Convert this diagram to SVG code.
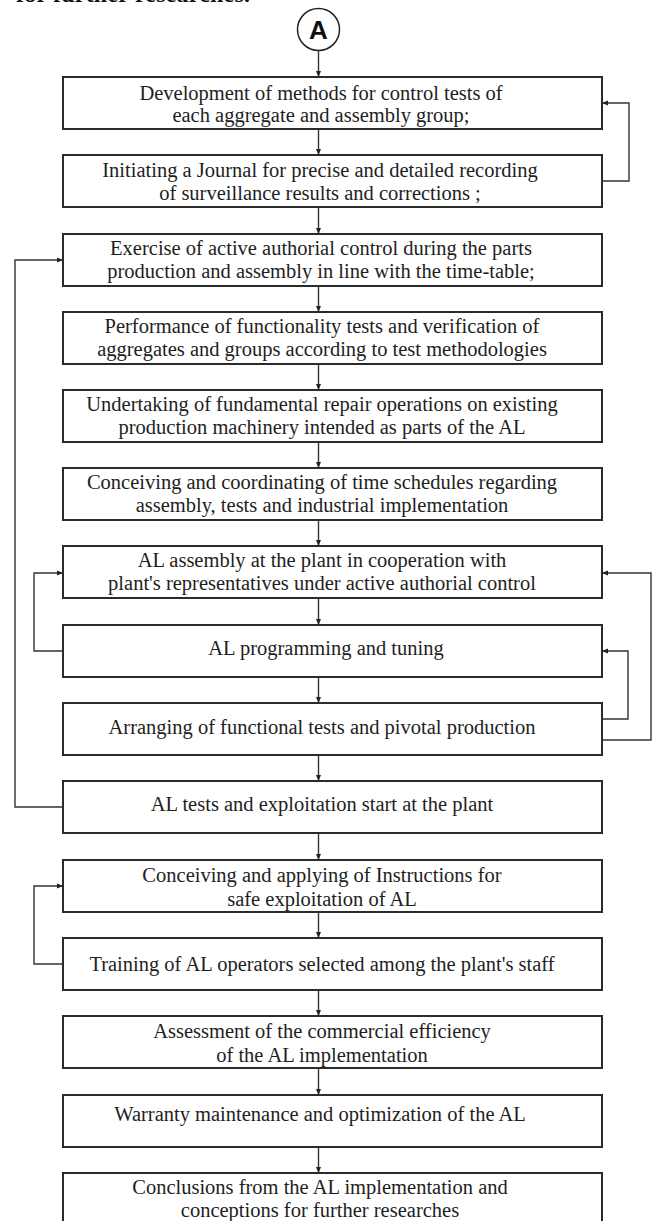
<svg xmlns="http://www.w3.org/2000/svg" width="654" height="1221" viewBox="0 0 654 1221">
<style>
.box{fill:#fff;stroke:#2b2b2b;stroke-width:2}
.t{font-family:"Liberation Serif","Times New Roman",serif;font-size:20.5px;fill:#1e1e1e;text-anchor:middle}
.c{fill:none;stroke:#333;stroke-width:1.4}
</style>
<defs>
<marker id="ah" markerUnits="userSpaceOnUse" markerWidth="7" markerHeight="6" refX="6" refY="3" orient="auto">
<path d="M0,0.5 L6,3 L0,5.5 z" fill="#222"/>
</marker>
</defs>
<rect width="654" height="1221" fill="#fff"/>
<text x="16" y="2" font-family="Liberation Serif, serif" font-weight="bold" font-size="24" fill="#111" textLength="234">for further researches.</text>

<g id="start">
<circle cx="318.5" cy="29.5" r="21" fill="#fff" stroke="#222" stroke-width="1.5"/>
<text x="318.5" y="39" font-family="Liberation Sans, Arial, sans-serif" font-weight="bold" font-size="26" text-anchor="middle" fill="#111">A</text>
</g>

<g id="connectors">
<path class="c" d="M318.5,51 V77" marker-end="url(#ah)"/>
<path class="c" d="M318.5,129 V155" marker-end="url(#ah)"/>
<path class="c" d="M318.5,207 V234" marker-end="url(#ah)"/>
<path class="c" d="M318.5,286 V312" marker-end="url(#ah)"/>
<path class="c" d="M318.5,364 V390" marker-end="url(#ah)"/>
<path class="c" d="M318.5,442 V468" marker-end="url(#ah)"/>
<path class="c" d="M318.5,520 V546" marker-end="url(#ah)"/>
<path class="c" d="M318.5,598 V625" marker-end="url(#ah)"/>
<path class="c" d="M318.5,677 V703" marker-end="url(#ah)"/>
<path class="c" d="M318.5,755 V781" marker-end="url(#ah)"/>
<path class="c" d="M318.5,833 V860" marker-end="url(#ah)"/>
<path class="c" d="M318.5,912 V938" marker-end="url(#ah)"/>
<path class="c" d="M318.5,990 V1016" marker-end="url(#ah)"/>
<path class="c" d="M318.5,1068 V1095" marker-end="url(#ah)"/>
<path class="c" d="M318.5,1147 V1173" marker-end="url(#ah)"/>
<path class="c" d="M602,181 H629 V103 H602" marker-end="url(#ah)"/>
<path class="c" d="M63,807 H15 V260 H63" marker-end="url(#ah)"/>
<path class="c" d="M63,651 H34 V573 H63" marker-end="url(#ah)"/>
<path class="c" d="M602,719 H628 V651 H602" marker-end="url(#ah)"/>
<path class="c" d="M602,740 H651 V573 H602" marker-end="url(#ah)"/>
<path class="c" d="M63,964 H34 V886 H63" marker-end="url(#ah)"/>
</g>

<g id="n1"><rect class="box" x="63" y="77" width="539" height="52"/>
<text class="t" x="321" y="99.5">Development of methods for control tests of</text>
<text class="t" x="321" y="122">each aggregate and assembly group;</text></g>

<g id="n2"><rect class="box" x="63" y="155" width="539" height="52"/>
<text class="t" x="320" y="177">Initiating a Journal for precise and detailed recording</text>
<text class="t" x="320" y="199.5">of surveillance results and corrections ;</text></g>

<g id="n3"><rect class="box" x="63" y="234" width="539" height="52"/>
<text class="t" x="321" y="255">Exercise of active authorial control during the parts</text>
<text class="t" x="321" y="277.5">production and assembly in line with the time-table;</text></g>

<g id="n4"><rect class="box" x="63" y="312" width="539" height="52"/>
<text class="t" x="322" y="333">Performance of functionality tests and verification of</text>
<text class="t" x="322" y="355.5">aggregates and groups according to test methodologies</text></g>

<g id="n5"><rect class="box" x="63" y="390" width="539" height="52"/>
<text class="t" x="322" y="411">Undertaking of fundamental repair operations on existing</text>
<text class="t" x="322" y="433.5">production machinery intended as parts of the AL</text></g>

<g id="n6"><rect class="box" x="63" y="468" width="539" height="52"/>
<text class="t" x="322" y="489">Conceiving and coordinating of time schedules regarding</text>
<text class="t" x="322" y="511.5">assembly, tests and industrial implementation</text></g>

<g id="n7"><rect class="box" x="63" y="546" width="539" height="52"/>
<text class="t" x="322" y="567">AL assembly at the plant in cooperation with</text>
<text class="t" x="322" y="589.5">plant's representatives under active authorial control</text></g>

<g id="n8"><rect class="box" x="63" y="625" width="539" height="52"/>
<text class="t" x="326" y="655">AL programming and tuning</text></g>

<g id="n9"><rect class="box" x="63" y="703" width="539" height="52"/>
<text class="t" x="322" y="734">Arranging of functional tests and pivotal production</text></g>

<g id="n10"><rect class="box" x="63" y="781" width="539" height="52"/>
<text class="t" x="322" y="811">AL tests and exploitation start at the plant</text></g>

<g id="n11"><rect class="box" x="63" y="860" width="539" height="52"/>
<text class="t" x="322" y="881.5">Conceiving and applying of Instructions for</text>
<text class="t" x="322" y="905.5">safe exploitation of AL</text></g>

<g id="n12"><rect class="box" x="63" y="938" width="539" height="52"/>
<text class="t" x="322" y="971">Training of AL operators selected among the plant's staff</text></g>

<g id="n13"><rect class="box" x="63" y="1016" width="539" height="52"/>
<text class="t" x="322" y="1038">Assessment of the commercial efficiency</text>
<text class="t" x="322" y="1062">of the AL implementation</text></g>

<g id="n14"><rect class="box" x="63" y="1095" width="539" height="52"/>
<text class="t" x="320" y="1121">Warranty maintenance and optimization of the AL</text></g>

<g id="n15"><rect class="box" x="63" y="1173" width="539" height="60"/>
<text class="t" x="320" y="1194">Conclusions from the AL implementation and</text>
<text class="t" x="320" y="1216.5">conceptions for further researches</text></g>
</svg>
